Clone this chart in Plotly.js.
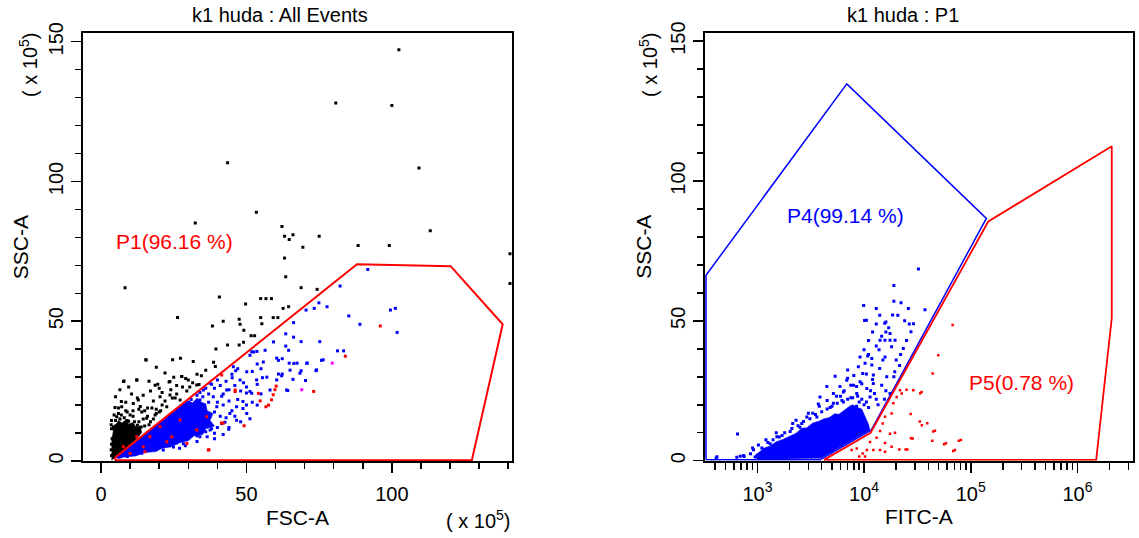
<!DOCTYPE html>
<html>
<head>
<meta charset="utf-8">
<script src="https://cdn.plot.ly/plotly-3.0.1.min.js"></script>
<style>html,body{margin:0;padding:0;background:#fff}#chart{width:1139px;height:538px}</style>
</head>
<body>
<div id="chart"></div>
<script>
var titleLeft = "k1 huda : All Events";
var titleRight = "k1 huda : P1";
var p1Label = "P1(96.16 %)";
var p4Label = "P4(99.14 %)";
var p5Label = "P5(0.78 %)";

// ---------- Left panel: FSC-A vs SSC-A (units x10^5) ----------
// black events outside P1
var blackX = [102.4,80.7,100,43.5,109.3,53.4,32.4,62.2,63.1,66,64.7,75,113.2,69.4,88.4,99.1,140.6,140.6,63.1,63.5,8.25,68.8,74.3,40.7,54.9,56.7,58.6,49.7,62.6,64.5,26.3,47.5,47.8,54.9,59.2,60.8,42,38.3,55.3,49.1,51.6,52.8,43.5,47.5,49,39.5,15.4,24.6,27.3,31.7,38.7,12.3,7.9,27.8,29.1,39.3,18.6,23.4,33.7,7,12.5,
  15.5,7.7,12.3,4.8,7.1,12.8,11.1,5.4,10,15.7,18.6,22.6,20.3,23.7,27.7,30,32.9,23.7,27.2,
  6,8.5,9,13,14,17,19,21,16,18,24,25.5,21,26,20,10.5,5,6.5,13.5,3.5,3.8,3.5,8.5,17,19.5,30.5,34.5,36,14.5,9.5,16.5,22,19,
  4.2,5,6.5,8,9.5,11.5,12.5,13.8,15,16.5,14.5,11,7,4.5,3.6,3.6,3.6,3.6,10,12,8,6,5,7.5,16,18,19,17.5,15,13,11,9,6,20.5,22,24.5,26,28,29.5,31.5,33,20,25];
var blackY = [147.1,128.1,127.2,106.7,104.8,89,85.1,83.9,80.4,80.9,79.2,80.4,82.4,76.5,77.1,77.1,74.1,63.5,72.6,65.9,62,62,61.4,58.7,58.1,58.1,58.1,56.2,54.6,55.2,51.3,50.7,48.9,51.3,51.3,51.3,50,48.3,49.1,46.8,44.8,44.8,41.5,41.5,42.5,40.1,36.2,36.2,36.8,35.6,35.3,29,28.6,30.2,29.5,33.8,27.1,28.3,27.4,21.3,22.5,
  36.1,28.4,29,19.1,19.4,21.8,20.6,15.8,16.5,15.3,16.5,19.4,23,28.4,30.2,29,27.2,23.6,21.8,
  17,18,14.5,14,17.5,14,18.5,20,19,21.5,25.5,22.5,24.5,27,17.5,24,23,25.5,19.5,13,8,4,21,25,27.5,26.5,30.5,32.5,23.5,26.5,28.5,31.5,33.5,
  12,14.5,15,15.5,14.2,14,12.8,12.2,12.5,13,15,16,16.5,16.5,14.5,11.5,6,2,10.5,11,9,7,5,12,16,15,17,19,18,18.5,18,17.5,19,18,21.5,22.5,24,26.5,25,28,31,26,30];
// dense (saturated) black region outline
var blackCoreX = [3.7,3.7,4.2,4,5.2,6,7.2,8.5,9.5,11,12,13.5,14,12.5,4.8];
var blackCoreY = [0.3,8,10.5,12.5,13.2,14.5,13.6,14.8,13.2,13.8,12.2,12.5,10.2,8.2,1.2];

// P1 events (blue): dense region outline + scattered events
var blueCoreX = [5,10,15,20,25,28,30,31.5,33,34.5,36,36.5,38.5,37.5,39,36,35,32,30,27,24,21,19,15,12,8,6];
var blueCoreY = [1.2,5.3,9.5,13.6,17.8,20.4,21.5,20.8,22.5,21,20.5,18,17,14.5,12.5,11.5,9.5,9,7.2,6.5,5,4.6,3.4,3,1.8,1.4,0.8];
var blueX = [91.7,82.2,74.9,70.5,73.3,77.7,85.2,99.5,101.2,89,101.8,66.2,63.5,66.2,68.8,75.2,59.3,63.5,64.5,81.3,83.4,53.6,56.4,60.4,64.7,67.4,70.9,75.8,62.3,51.2,52.5,53.7,73.9,68.8,61,62.3,66,70.3,64.2,55.5,53.7,50,51.2,46.3,45.1,48.8,48.8,53.7,51.2,43.9,42.6,39,36.5,
  45.5,51.8,50.1,55.8,61,62.1,65,66.3,47.8,51.8,46.6,50.1,43.2,41.5,44.3,39.8,37.5,35.2,46.6,41.5,53.5,58.1,60.4,63.8,68.4,74.1,76.4,70.7,32.9,36.3,30.6,37.5,34,24.9,21.4,28.3,31.7,30.6,34,38.6,35.2,
  34,36,38,40,37,39,41,43,42,44,46,40,42,44,45,47,48,49,39,41,43,38,40,35,36,33,31,28,26,23,20,17,14,11,9,27,33,29,31,33,35,30,26,24,21,18,16,12,9,7,45,47,52,55,57,50,52,55,46,48,44,42,39,50,37];
var blueY = [68.5,62.6,56.6,54,54.6,55.2,51.9,54,54.6,48.9,46,49.5,45.5,44.3,42.7,42.7,42.6,41.1,39.6,39.4,39.4,39.2,39.6,36.8,35,35,35,36,36.6,37.8,39,34.7,32.3,32.3,31.1,31.1,29.2,28.8,25.2,29.8,27.4,24.3,24.9,32.3,29.8,21.3,18.8,20,15.1,11.4,13.9,9.9,8.7,
  33.7,39.1,31.9,35.4,36,30.5,32.5,34.9,29,24.2,19.4,17,25.4,23.2,17,19.4,27.8,25.4,14.6,13.4,29,25.4,29,25.4,31.4,32.6,36.2,35,15.9,14.7,11.1,11.1,8.7,5,3.9,6.2,13.5,20.6,21.8,23,19.4,
  24.5,26,27.5,29,24,26,27,28.5,24,25.5,27,21,20,21.5,18,22,25,28,17.5,16,15.5,11.5,12,13,10.5,9,10,8.5,6.5,5.8,4.8,3.9,2.8,2.4,1.6,4.6,7,5.5,22,23.5,23,21,17.5,16,13.5,11,9.5,6.5,4.2,2.6,31,33,32,33,30,26.5,21,24,16,14,12,9.5,8,20,21];
// red events (back-gated)
var redLX = [96,84,73.1,60.2,59.8,59.2,58.6,57.6,56.7,54.7,46.1,49.2,41.4,37.1,41.5,36.3,36.9,22.6,29.5,14.5,20.3,16.8,12.3,10,15.1,7.7,24.3,32.9,27.2,42,46.1,54.1];
var redLY = [48.3,37.5,24.9,26.8,25.5,23.7,21.9,20,19.4,21.5,24.9,12.6,13.6,4,30.8,15.8,3.9,6.9,6.3,5.1,12.3,8.7,8.7,2.7,3.3,5.1,8.7,11.1,14.7,13.5,25.4,24.2];
var magLX = [79.5,69];
var magLY = [35,25.5];
// P1 gate polygon
var gateP1X = [4.8,88,120.2,138.1,127.5,5,4.8];
var gateP1Y = [1.2,70.4,69.7,48.9,0.3,0.3,1.2];

// ---------- Right panel: FITC-A (log) vs SSC-A ----------
var blueRCoreX = [1000,950,1050,1150,1300,1500,1700,2000,2300,2600,2900,3300,3800,4200,4700,5300,5800,6500,7300,7800,8700,9500,10200,11000,11300,3900];
var blueRCoreY = [0.5,2,3.2,4.5,5.2,6.8,7.5,8.8,9.8,11.6,11.8,13.5,14.2,15,15.4,16.8,16.6,18,19.5,20,19,18.5,15.5,13,11,0.8];
var blueRX = [32300,19000,22200,26000,37200,9900,13000,18500,10100,13000,15600,26500,27500,17500,20700,10500,16000,17000,14600,14100,15700,17500,19500,13800,18100,23300,9980,10800,9160,11800,15700,10200,11800,8830,7010,9700,12200,16300,19400,5350,6870,9160,12200,14600,4470,5940,7940,10600,3860,5150,6390,8530,11360,3720,5150,2140,2900,650,417,689,740,918,1020,1315,1520,2025,2600,3600,410,640,750,950,
  6400,7500,9000,13500,15500,17500,19000,21500,4800,3300,2500,1700,1200,6000,10000,8500,
  1100,1250,1400,1600,1800,2100,2400,2700,3100,3500,4000,4500,5000,5600,6200,7000,7800,8700,9500,10500,11000,860,900,1050,1150,1400,2000,2500,2800,3200,1700,6500,7500,8500,9500,11500,12500,5500,4500,3800,3000,2300,1500,13000,16000,12000,10500,14000,8000,7000,11000,13000,15000,20000,22000,25000,16000,12000,11000,24000,29000,19000,14000,5000,6000,7000,8000,9000];
var blueRY = [68.5,62.6,56.5,54.4,54,55.5,54.4,52.1,50.1,48.9,49.1,48.9,46.1,45.5,52,50.2,49.6,47.5,44.5,43.1,43.1,43.1,43.1,39.7,40.7,40.1,39.7,37.4,37.1,36.5,37.1,34.8,34.2,33.6,32.4,31.2,30.6,30,31.8,30.2,28.8,28.2,27.6,27,26.5,26.5,27,25.8,22.8,24,24.6,24,22.8,20.3,20.5,13.3,15.6,9.5,1.4,1.6,1.9,3.9,5.6,6.1,8.6,10.4,13.3,15.6,1,1.2,1.5,1.3,
  21,22.5,21,20,22,24,30,34,19,17,12,9,7.5,23,20,19.5,
  4.5,6.5,7.5,8.5,10,11.5,12.5,14,15,16.5,17.5,18.5,19.5,20.5,21.5,22,22.5,23,22,21,19,2.5,4.5,2,1,3,4,5,2,3,5.5,25,27,26.5,27.5,25,24,23,21.5,19.5,17,14.5,10,22,25,29,31,33,30.5,29.5,38,41,36,36,38,43,46,46,43,50,49,57,52,3.5,5.5,7,8.5,9.5];
var redRX = [67600,49600,43900,27300,33300,39100,46100,80800,58500,71000,28500,21400,25400,21700,25000,28900,34600,20200,22500,18800,18100,15700,14900,14100,13100,17500,19500,15700,18100,11360,12200,10600,9700,8530,7630,9000,10200,14100,15700,77300,68500,56200,43600,44400,27500,24500,34800,33600];
var redRY = [48.5,37.7,31.2,16.7,14,13.4,10.7,7.4,6.2,3.8,7.9,4,4,25.2,25.4,25.2,24.6,22.8,24,20.5,16.9,15.7,13.3,10.6,8.2,9.6,10,6.3,5,6.7,3.8,3.8,2.6,4.4,3.8,1.5,1.5,3.8,3.2,7.1,3.5,5.9,7.1,10.4,8,4,12.7,24.1];
var gateP4X = [329,329,6880,140000,11700,3860,329];
var gateP4Y = [0.3,66.3,134.7,86.6,11,0.3,0.3];
var gateP5X = [4200,11500,146000,2100000,2100000,1500000,4200];
var gateP5Y = [0.3,10,85.5,112.4,51,0.3,0.3];

// ticks
var linTicks = [0,50,100,150];
var linTickText = ["0","50","100","150"];
var fscTicks = [0,50,100];
var fscTickText = ["0","50","100"];
var logTicks = [1e3,1e4,1e5,1e6];
var logTickText = ["10<sup>3</sup>","10<sup>4</sup>","10<sup>5</sup>","10<sup>6</sup>"];
var logMinor = [];
[100,1000,10000,100000,1000000].forEach(function(d){for(var k=2;k<=9;k++){logMinor.push(d*k);}});

var FONT = "Liberation Sans, Arial, sans-serif";
var W = 1139, H = 538;
function px(x){return x/W;}
function py(y){return 1-y/H;}

function pts(x,y,color,xa,ya,size){
  return {type:'scatter',mode:'markers',x:x,y:y,xaxis:xa,yaxis:ya,hoverinfo:'skip',
    marker:{symbol:'square',size:size||3,color:color,line:{width:0}},showlegend:false};
}
function core(x,y,color,xa,ya){
  return {type:'scatter',mode:'lines',x:x,y:y,xaxis:xa,yaxis:ya,fill:'toself',fillcolor:color,
    line:{width:0.5,color:color},hoverinfo:'skip',showlegend:false};
}
function gate(x,y,color,xa,ya,w){
  return {type:'scatter',mode:'lines',x:x,y:y,xaxis:xa,yaxis:ya,line:{color:color,width:w||2},
    hoverinfo:'skip',showlegend:false};
}

var traces = [
  core(blackCoreX,blackCoreY,'#000000','x','y'),
  pts(blackX,blackY,'#000000','x','y',3),
  core(blueCoreX,blueCoreY,'#0000ff','x','y'),
  pts(blueX,blueY,'#0000ff','x','y',3),
  pts(redLX,redLY,'#ff0000','x','y',3),
  pts(magLX,magLY,'#ff00ff','x','y',3),
  gate(gateP1X,gateP1Y,'#ff0000','x','y',2),

  core(blueRCoreX,blueRCoreY,'#0000ff','x2','y2'),
  pts(blueRX,blueRY,'#0000ff','x2','y2',3),
  pts(redRX,redRY,'#ff0000','x2','y2',2.5),
  gate(gateP4X,gateP4Y,'#0000ff','x2','y2',1.5),
  gate(gateP5X,gateP5Y,'#ff0000','x2','y2',1.8)
];

var axisCommon = {
  showline:true, mirror:true, linecolor:'#000', linewidth:2, showgrid:false, zeroline:false,
  ticks:'outside', ticklen:10, tickwidth:1.5, tickcolor:'#000', automargin:false,
  tickfont:{family:FONT,size:20,color:'#000'}, fixedrange:true
};
function merge(a,b){var o={};for(var k in a)o[k]=a[k];for(var k2 in b)o[k2]=b[k2];return o;}
var minorLin = {ticks:'outside', dtick:10, tick0:0, ticklen:6, tickwidth:1.5, tickcolor:'#000'};

var layout = {
  width:W, height:H, margin:{l:0,r:0,t:0,b:0}, paper_bgcolor:'#fff', plot_bgcolor:'#fff',
  font:{family:FONT,color:'#000'}, showlegend:false,
  xaxis: merge(axisCommon,{domain:[82.7/W,512.3/W], anchor:'y', range:[-6.3,141.4],
    tickmode:'array', tickvals:fscTicks, ticktext:fscTickText, minor:minorLin,
    ticklabelstandoff:4,
    title:{text:'FSC-A', font:{family:FONT,size:21,color:'#000'}, standoff:6}}),
  yaxis: merge(axisCommon,{domain:[1-461/H,1-33.3/H], anchor:'x', range:[0,153],
    tickmode:'array', tickvals:linTicks, ticktext:linTickText, tickangle:-90, minor:minorLin,
    title:{text:'SSC-A', font:{family:FONT,size:21,color:'#000'}, standoff:10}}),
  xaxis2: merge(axisCommon,{domain:[705/W,1132.7/W], anchor:'y2', type:'log', range:[Math.log10(322),Math.log10(3.3e6)],
    tickmode:'array', tickvals:logTicks, ticktext:logTickText,
    minor:{ticks:'outside', tickmode:'array', tickvals:logMinor, ticklen:7, tickwidth:1.5, tickcolor:'#000'},
    ticklabelstandoff:4,
    title:{text:'FITC-A', font:{family:FONT,size:21,color:'#000'}, standoff:6}}),
  yaxis2: merge(axisCommon,{domain:[1-460.7/H,1-32.7/H], anchor:'x2', range:[0,153],
    tickmode:'array', tickvals:linTicks, ticktext:linTickText, tickangle:-90, minor:minorLin,
    title:{text:'SSC-A', font:{family:FONT,size:21,color:'#000'}, standoff:10}}),
  annotations: [
    {text:titleLeft, xref:'paper', yref:'paper', x:px(279.5), y:py(15), xanchor:'center', yanchor:'middle', showarrow:false, font:{family:FONT,size:20,color:'#000'}},
    {text:titleRight, xref:'paper', yref:'paper', x:px(903), y:py(15), xanchor:'center', yanchor:'middle', showarrow:false, font:{family:FONT,size:20,color:'#000'}},
    {text:p1Label, xref:'paper', yref:'paper', x:px(174), y:py(241), xanchor:'center', yanchor:'middle', showarrow:false, font:{family:FONT,size:21,color:'#ff0000'}},
    {text:p4Label, xref:'paper', yref:'paper', x:px(845.5), y:py(215), xanchor:'center', yanchor:'middle', showarrow:false, font:{family:FONT,size:21,color:'#0000ff'}},
    {text:p5Label, xref:'paper', yref:'paper', x:px(1021), y:py(382), xanchor:'center', yanchor:'middle', showarrow:false, font:{family:FONT,size:21,color:'#ff0000'}},
    {text:'( x 10<sup>5</sup>)', xref:'paper', yref:'paper', x:px(28), y:py(65), xanchor:'center', yanchor:'middle', textangle:-90, showarrow:false, font:{family:FONT,size:20,color:'#000'}},
    {text:'( x 10<sup>5</sup>)', xref:'paper', yref:'paper', x:px(648), y:py(65), xanchor:'center', yanchor:'middle', textangle:-90, showarrow:false, font:{family:FONT,size:20,color:'#000'}},
    {text:'( x 10<sup>5</sup>)', xref:'paper', yref:'paper', x:px(478), y:py(519), xanchor:'center', yanchor:'middle', showarrow:false, font:{family:FONT,size:20,color:'#000'}}
  ]
};

Plotly.newPlot('chart', traces, layout, {displayModeBar:false, staticPlot:true});
</script>
</body>
</html>
